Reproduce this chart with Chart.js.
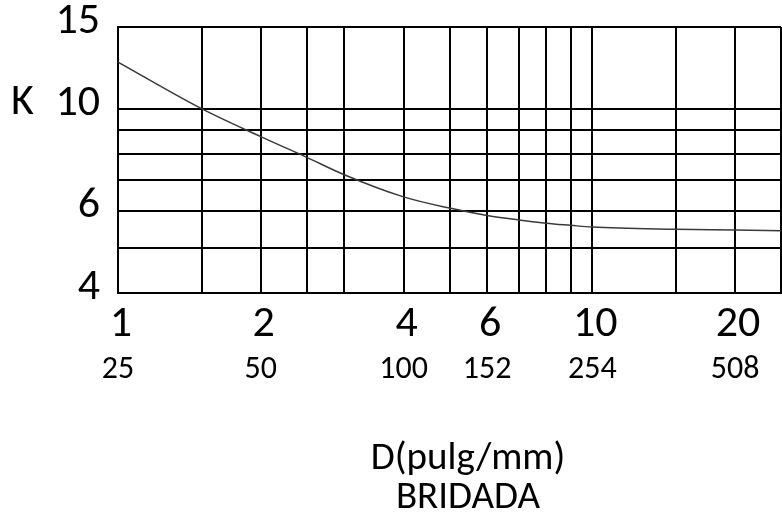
<!DOCTYPE html>
<html>
<head>
<meta charset="utf-8">
<script src="https://cdn.jsdelivr.net/npm/chart.js@4"></script>
<style>
  html, body { margin: 0; padding: 0; background: #fff; }
  #wrap { width: 782px; height: 523px; position: relative; }
</style>
</head>
<body>
<div id="wrap"><canvas id="chart"></canvas></div>
<script>
// diameter (pulg) and K
const diameters = [1, 1.5, 2, 2.5, 3, 4, 5, 6, 7, 8, 9, 10, 15, 20, 25];
const kValues = [12.6, 10.0, 8.7, 7.85, 7.2, 6.45, 6.1, 5.88, 5.75, 5.66, 5.6, 5.55, 5.49, 5.47, 5.45];

// grid lines and labels
const xGrid = [1, 1.5, 2, 2.5, 3, 4, 5, 6, 7, 8, 9, 10, 15, 20, 25];
const xLabels = { 1: "1", 2: "2", 4: "4", 6: "6", 10: "10", 20: "20" };
const mmTicks = [1, 2, 4, 6, 10, 20];
const mmLabels = ["25", "50", "100", "152", "254", "508"];
const yGrid = [4, 5, 6, 7, 8, 9, 10, 15];
const yLabels = { 4: "4", 6: "6", 10: "10", 15: "15" };

const FONT = "Carlito, Lato, sans-serif";

// no label overhang, the layout padding decides the plot box
function noOverhang(s) {
  s.paddingTop = 0; s.paddingBottom = 0; s.paddingLeft = 0; s.paddingRight = 0;
}

const extraText = {
  id: "extraText",
  afterDraw(chart) {
    const ctx = chart.ctx;
    ctx.save();
    ctx.fillStyle = "#000";
    ctx.textBaseline = "middle";
    ctx.textAlign = "left";
    ctx.font = "44px " + FONT;
    ctx.fillText("K", 11, 103);
    ctx.textAlign = "center";
    ctx.font = "39px " + FONT;
    ctx.fillText("D(pulg/mm)", 468, 459);
    ctx.fillText("BRIDADA", 468, 498);
    ctx.restore();
  }
};

new Chart(document.getElementById("chart"), {
  type: "line",
  data: {
    datasets: [{
      data: diameters.map((d, i) => ({ x: d, y: kValues[i] })),
      borderColor: "#3a3a3a",
      borderWidth: 1.5,
      pointRadius: 0,
      tension: 0.4,
      cubicInterpolationMode: "monotone",
      fill: false
    }]
  },
  options: {
    responsive: true,
    maintainAspectRatio: false,
    animation: false,
    layout: { padding: { top: 27, right: 1, bottom: 0, left: 0 } },
    plugins: { legend: { display: false }, tooltip: { enabled: false } },
    scales: {
      x: {
        type: "logarithmic",
        position: "bottom",
        min: 1,
        max: 25,
        afterBuildTicks: s => { s.ticks = xGrid.map(v => ({ value: v })); },
        afterFit: s => { s.height = 52; noOverhang(s); },
        grid: { color: "#000", lineWidth: 2, drawTicks: false },
        border: { color: "#000", width: 2 },
        ticks: {
          autoSkip: false,
          maxRotation: 0,
          padding: 6,
          labelOffset: 3,
          color: "#000",
          font: { family: FONT, size: 44 },
          callback: v => xLabels[v] || ""
        }
      },
      x2: {
        type: "logarithmic",
        position: "bottom",
        min: 1,
        max: 25,
        afterBuildTicks: s => { s.ticks = mmTicks.map(v => ({ value: v })); },
        afterFit: s => { s.height = 178; noOverhang(s); },
        grid: { display: false, drawTicks: false },
        border: { display: false },
        ticks: {
          autoSkip: false,
          maxRotation: 0,
          padding: 6,
          color: "#000",
          font: { family: FONT, size: 32 },
          callback: v => mmLabels[mmTicks.indexOf(v)] || ""
        }
      },
      y: {
        type: "logarithmic",
        min: 4,
        max: 15,
        afterBuildTicks: s => { s.ticks = yGrid.map(v => ({ value: v })); },
        afterFit: s => { s.width = 118; noOverhang(s); },
        grid: { color: "#000", lineWidth: 2, drawTicks: false },
        border: { color: "#000", width: 2 },
        ticks: {
          autoSkip: false,
          padding: 18,
          labelOffset: -5,
          color: "#000",
          font: { family: FONT, size: 44 },
          callback: v => yLabels[v] || ""
        }
      }
    }
  },
  plugins: [extraText]
});
</script>
</body>
</html>
